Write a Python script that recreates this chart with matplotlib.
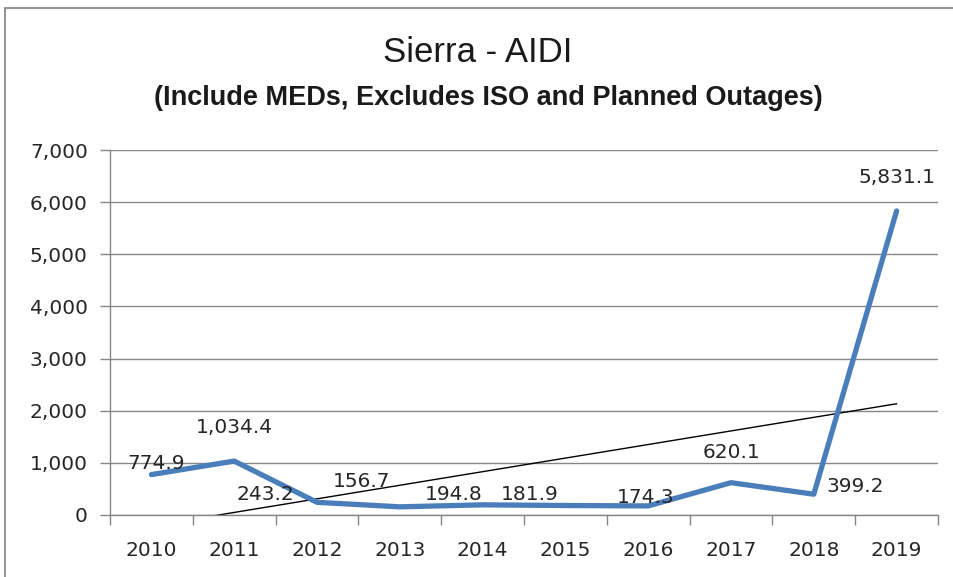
import numpy as np
import matplotlib
matplotlib.use('Agg')
import matplotlib.pyplot as plt
from matplotlib.patches import Rectangle

# Data
years = ['2010', '2011', '2012', '2013', '2014', '2015', '2016', '2017', '2018', '2019']
aidi = [774.9, 1034.4, 243.2, 156.7, 194.8, 181.9, 174.3, 620.1, 399.2, 5831.1]
labels = ['774.9', '1,034.4', '243.2', '156.7', '194.8', '181.9', '174.3', '620.1', '399.2', '5,831.1']
# where each data label sits (x in category units, y in chart units)
label_x = [0.06, 1.0, 1.38, 2.54, 3.65, 4.57, 5.97, 7.01, 8.5, 9.0]
label_y = [997, 1669, 384, 633, 384, 384, 345, 1208, 537, 6464]

grey = '#868686'
blue = '#4A7EBB'

fig = plt.figure(figsize=(9.54, 5.77), dpi=100)
ax = fig.add_axes([110/954, 62/577, 828/954, 365/577])

x = np.arange(len(years))
ax.plot(x, aidi, color=blue, lw=3.8, solid_joinstyle='round', solid_capstyle='round', zorder=3)

# linear trendline
k, b = np.polyfit(x, aidi, 1)
ax.plot([0, 9], [b, b + 9 * k], color='black', lw=1.0, zorder=2)

for lx, ly, t in zip(label_x, label_y, labels):
    ax.text(lx, ly, t, ha='center', va='center', fontsize=14.5, color='#262626',
            family='DejaVu Sans', zorder=4)

ax.set_xlim(-0.5, 9.5)
ax.set_ylim(0, 7000)
ax.set_yticks(range(0, 7001, 1000))
ax.set_yticklabels(['{:,}'.format(v) for v in range(0, 7001, 1000)])
ax.set_xticks(x)
ax.set_xticklabels(years)
ax.set_xticks(np.arange(-0.5, 10, 1), minor=True)
ax.tick_params(axis='x', which='major', length=0, pad=19, labelsize=14.5, labelcolor='#262626')
ax.tick_params(axis='x', which='minor', length=7, color=grey, width=1)
ax.tick_params(axis='y', length=7, color=grey, width=1, pad=9, labelsize=14.5, labelcolor='#262626')

ax.grid(axis='y', color=grey, lw=1)
ax.set_axisbelow(True)
for s in ['top', 'right']:
    ax.spines[s].set_visible(False)
for s in ['left', 'bottom']:
    ax.spines[s].set_color(grey)
    ax.spines[s].set_linewidth(1)

# Titles
fig.text(478/954, 1 - 53/577, 'Sierra - AIDI', ha='center', va='center',
         fontsize=25, color='#1a1a1a', family='Liberation Sans')
fig.text(488/954, 1 - 98/577, '(Include MEDs, Excludes ISO and Planned Outages)',
         ha='center', va='center', fontsize=19.5, fontweight='bold',
         color='#1a1a1a', family='Liberation Sans')

# chart border
fig.patches.append(Rectangle((5/954, -0.1), 1.1, 1 - 8/577 + 0.1, transform=fig.transFigure,
                             fill=False, edgecolor='#7f7f7f', lw=1.2))

fig.savefig('out.png', dpi=100)
